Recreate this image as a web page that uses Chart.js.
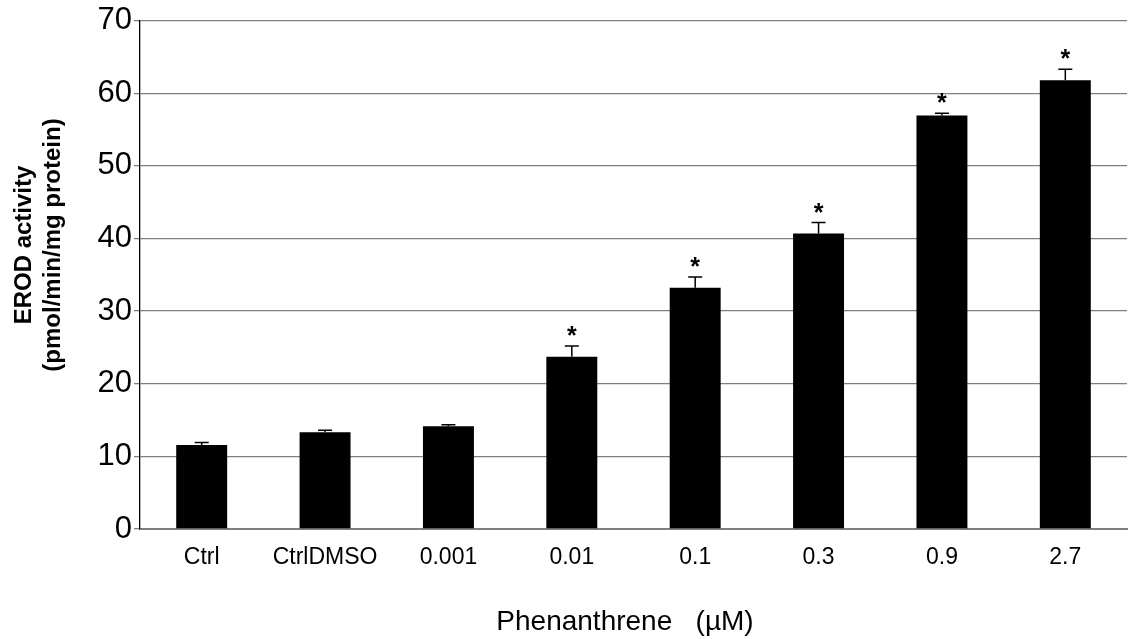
<!DOCTYPE html>
<html>
<head>
<meta charset="utf-8">
<script src="https://cdn.jsdelivr.net/npm/chart.js@4"></script>
<style>
  html, body { margin: 0; padding: 0; background: #ffffff; }
  #wrap { width: 1128px; height: 639px; }
</style>
</head>
<body>
<div id="wrap"><canvas id="c" width="1128" height="639"></canvas></div>
<script>
// ---- data ----
const categories = ['Ctrl', 'CtrlDMSO', '0.001', '0.01', '0.1', '0.3', '0.9', '2.7'];
const means = [11.55, 13.33, 14.15, 23.7, 33.2, 40.7, 56.95, 61.8];
const errors = [0.35, 0.25, 0.2, 1.5, 1.5, 1.5, 0.3, 1.5];
const significant = [false, false, false, true, true, true, true, true];
const yTicks = [0, 10, 20, 30, 40, 50, 60, 70];
const yTitle = ['EROD activity', '(pmol/min/mg protein)'];
const xTitle = 'Phenanthrene   (\u00B5M)';

const FONT = "'Liberation Sans', Arial, Helvetica, sans-serif";

const errorBarPlugin = {
  id: 'errorBars',
  afterDatasetsDraw(chart) {
    const ctx = chart.ctx;
    const meta = chart.getDatasetMeta(0);
    const ys = chart.scales.y;
    ctx.save();
    ctx.strokeStyle = '#000000';
    ctx.lineWidth = 1.5;
    meta.data.forEach((bar, i) => {
      const x = bar.x;
      const yBar = ys.getPixelForValue(means[i]);
      const yTop = ys.getPixelForValue(means[i] + errors[i]);
      ctx.beginPath();
      ctx.moveTo(x, yBar);
      ctx.lineTo(x, yTop);
      ctx.moveTo(x - 7, yTop);
      ctx.lineTo(x + 7, yTop);
      ctx.stroke();
      if (significant[i]) {
        ctx.fillStyle = '#000000';
        ctx.font = 'bold 25px ' + FONT;
        ctx.textAlign = 'center';
        ctx.textBaseline = 'alphabetic';
        ctx.fillText('*', x, yTop - 2);
      }
    });
    ctx.restore();
  }
};

const titlesPlugin = {
  id: 'axisTitles',
  afterDraw(chart) {
    const ctx = chart.ctx;
    ctx.save();
    ctx.fillStyle = '#000000';
    ctx.font = 'bold 24px ' + FONT;
    ctx.textAlign = 'center';
    ctx.textBaseline = 'middle';
    ctx.translate(0, 245);
    ctx.rotate(-Math.PI / 2);
    ctx.fillText(yTitle[0], 0, 24);
    ctx.fillText(yTitle[1], 0, 53);
    ctx.restore();
    ctx.save();
    ctx.fillStyle = '#000000';
    ctx.font = '28px ' + FONT;
    ctx.textAlign = 'center';
    ctx.textBaseline = 'middle';
    ctx.fillText(xTitle, 625, 622);
    ctx.restore();
  }
};

new Chart(document.getElementById('c'), {
  type: 'bar',
  data: {
    labels: categories,
    datasets: [{
      data: means,
      backgroundColor: '#000000',
      borderWidth: 0,
      barPercentage: 0.413,
      categoryPercentage: 1.0
    }]
  },
  options: {
    responsive: false,
    animation: false,
    devicePixelRatio: 1,
    layout: { padding: { left: 0, right: 1, top: 17, bottom: 0 } },
    plugins: {
      legend: { display: false },
      tooltip: { enabled: false },
      title: { display: false }
    },
    scales: {
      x: {
        grid: { display: false, drawTicks: false },
        border: { display: true, color: '#7f7f7f', width: 2 },
        ticks: {
          color: '#000000',
          font: { family: FONT, size: 23 },
          padding: 15,
          maxRotation: 0,
          autoSkip: false
        },
        afterFit(scale) { scale.height = 110; }
      },
      y: {
        min: 0,
        max: 70,
        afterBuildTicks(scale) { scale.ticks = yTicks.map(v => ({ value: v })); },
        grid: {
          color: '#7f7f7f',
          lineWidth: 1.3,
          tickLength: 6,
          drawTicks: true
        },
        border: { display: true, color: '#000000', width: 1.3 },
        ticks: {
          color: '#000000',
          font: { family: FONT, size: 31 },
          padding: 2
        },
        afterFit(scale) { scale.width = 140; }
      }
    }
  },
  plugins: [errorBarPlugin, titlesPlugin]
});
</script>
</body>
</html>
